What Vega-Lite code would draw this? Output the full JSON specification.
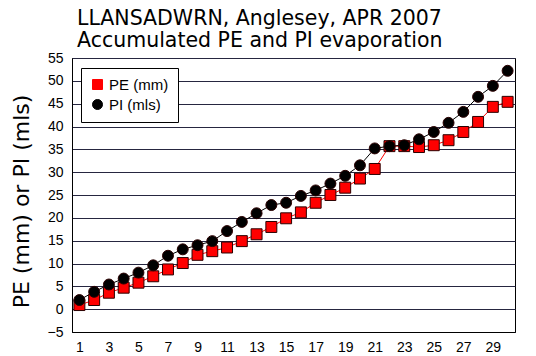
{
  "$schema": "https://vega.github.io/schema/vega-lite/v6.json",
  "width": 443,
  "height": 274,
  "autosize": {"type": "none"},
  "padding": {"left": 72, "top": 58, "right": 21, "bottom": 24},
  "background": "white",
  "title": {
    "text": ["LLANSADWRN, Anglesey, APR 2007", "Accumulated PE and PI evaporation"],
    "anchor": "start",
    "frame": "group",
    "dx": 5,
    "font": "DejaVu Sans",
    "fontSize": 20.5,
    "fontWeight": "normal",
    "lineHeight": 22,
    "offset": 0,
    "color": "black"
  },
  "config": {
    "view": {"stroke": "black", "strokeWidth": 1},
    "axis": {
      "labelFont": "Liberation Sans",
      "labelFontSize": 14,
      "labelColor": "black",
      "domainColor": "black",
      "ticks": false
    },
    "legend": {
      "labelFont": "Liberation Sans",
      "labelFontSize": 15,
      "labelColor": "black",
      "labelLimit": 300
    }
  },
  "data": {
    "values": [
      {"day": 1, "series": "PE (mm)", "value": 0.9},
      {"day": 2, "series": "PE (mm)", "value": 2.0},
      {"day": 3, "series": "PE (mm)", "value": 3.6},
      {"day": 4, "series": "PE (mm)", "value": 4.7},
      {"day": 5, "series": "PE (mm)", "value": 5.8},
      {"day": 6, "series": "PE (mm)", "value": 7.2},
      {"day": 7, "series": "PE (mm)", "value": 8.7},
      {"day": 8, "series": "PE (mm)", "value": 10.1},
      {"day": 9, "series": "PE (mm)", "value": 11.9},
      {"day": 10, "series": "PE (mm)", "value": 12.7},
      {"day": 11, "series": "PE (mm)", "value": 13.5},
      {"day": 12, "series": "PE (mm)", "value": 14.9},
      {"day": 13, "series": "PE (mm)", "value": 16.4},
      {"day": 14, "series": "PE (mm)", "value": 18.0},
      {"day": 15, "series": "PE (mm)", "value": 19.9},
      {"day": 16, "series": "PE (mm)", "value": 21.2},
      {"day": 17, "series": "PE (mm)", "value": 23.3},
      {"day": 18, "series": "PE (mm)", "value": 25.0},
      {"day": 19, "series": "PE (mm)", "value": 26.6},
      {"day": 20, "series": "PE (mm)", "value": 28.6},
      {"day": 21, "series": "PE (mm)", "value": 30.7},
      {"day": 22, "series": "PE (mm)", "value": 35.7},
      {"day": 23, "series": "PE (mm)", "value": 35.7},
      {"day": 24, "series": "PE (mm)", "value": 35.5},
      {"day": 25, "series": "PE (mm)", "value": 35.9},
      {"day": 26, "series": "PE (mm)", "value": 37.0},
      {"day": 27, "series": "PE (mm)", "value": 38.8},
      {"day": 28, "series": "PE (mm)", "value": 41.0},
      {"day": 29, "series": "PE (mm)", "value": 44.3},
      {"day": 30, "series": "PE (mm)", "value": 45.4},
      {"day": 1, "series": "PI (mls)", "value": 2.0},
      {"day": 2, "series": "PI (mls)", "value": 3.8},
      {"day": 3, "series": "PI (mls)", "value": 5.4},
      {"day": 4, "series": "PI (mls)", "value": 6.7},
      {"day": 5, "series": "PI (mls)", "value": 8.0},
      {"day": 6, "series": "PI (mls)", "value": 9.6},
      {"day": 7, "series": "PI (mls)", "value": 11.7},
      {"day": 8, "series": "PI (mls)", "value": 13.1},
      {"day": 9, "series": "PI (mls)", "value": 14.0},
      {"day": 10, "series": "PI (mls)", "value": 14.9},
      {"day": 11, "series": "PI (mls)", "value": 17.1},
      {"day": 12, "series": "PI (mls)", "value": 19.1},
      {"day": 13, "series": "PI (mls)", "value": 21.0},
      {"day": 14, "series": "PI (mls)", "value": 22.8},
      {"day": 15, "series": "PI (mls)", "value": 23.3},
      {"day": 16, "series": "PI (mls)", "value": 24.8},
      {"day": 17, "series": "PI (mls)", "value": 26.0},
      {"day": 18, "series": "PI (mls)", "value": 27.5},
      {"day": 19, "series": "PI (mls)", "value": 29.2},
      {"day": 20, "series": "PI (mls)", "value": 31.5},
      {"day": 21, "series": "PI (mls)", "value": 35.2},
      {"day": 22, "series": "PI (mls)", "value": 35.7},
      {"day": 23, "series": "PI (mls)", "value": 35.9},
      {"day": 24, "series": "PI (mls)", "value": 37.2},
      {"day": 25, "series": "PI (mls)", "value": 38.8},
      {"day": 26, "series": "PI (mls)", "value": 40.8},
      {"day": 27, "series": "PI (mls)", "value": 43.2},
      {"day": 28, "series": "PI (mls)", "value": 46.5},
      {"day": 29, "series": "PI (mls)", "value": 48.9},
      {"day": 30, "series": "PI (mls)", "value": 52.2}
    ]
  },
  "encoding": {
    "x": {
      "field": "day",
      "type": "ordinal",
      "scale": {"type": "point", "padding": 0.5},
      "axis": {
        "title": null,
        "labelAngle": 0,
        "labelPadding": 8,
        "labelExpr": "datum.value % 2 == 1 ? datum.label : ''",
        "grid": false
      }
    },
    "y": {
      "field": "value",
      "type": "quantitative",
      "scale": {"domain": [-5, 55], "nice": false, "zero": false},
      "axis": {
        "title": "PE (mm) or PI (mls)",
        "titleFont": "DejaVu Sans",
        "titleFontSize": 22,
        "titleFontWeight": "normal",
        "titleColor": "black",
        "titleX": -39,
        "titleY": 143,
        "titleAngle": -90,
        "titleAlign": "center",
        "titleBaseline": "bottom",
        "values": [-5, 0, 5, 10, 15, 20, 25, 30, 35, 40, 45, 50, 55],
        "labelPadding": 9,
        "grid": true,
        "gridColor": "#262640",
        "gridWidth": 1.2,
        "gridOpacity": 1
      }
    }
  },
  "layer": [
    {
      "mark": {"type": "line", "strokeWidth": 1},
      "encoding": {
        "color": {
          "field": "series",
          "type": "nominal",
          "scale": {"domain": ["PE (mm)", "PI (mls)"], "range": ["#ff0000", "#000000"]}
        }
      }
    },
    {
      "mark": {"type": "point", "filled": true, "opacity": 1, "stroke": "#2a0000", "strokeWidth": 1, "size": 120},
      "encoding": {
        "color": {
          "field": "series",
          "type": "nominal",
          "scale": {"domain": ["PE (mm)", "PI (mls)"], "range": ["#ff0000", "#000000"]},
          "legend": {
            "title": "\u00a0\u00a0\u00a0\u00a0\u00a0\u00a0\u00a0\u00a0\u00a0\u00a0\u00a0\u00a0",
            "titleOrient": "right",
            "titleAngle": 0,
            "titleFontSize": 14,
            "titlePadding": 0,
            "orient": "none",
            "legendX": 9,
            "legendY": 10,
            "fillColor": "white",
            "strokeColor": "black",
            "padding": 9,
            "rowPadding": 4,
            "labelFontSize": 15,
            "labelFont": "Liberation Sans",
            "symbolStrokeWidth": 1
          }
        },
        "shape": {
          "field": "series",
          "type": "nominal",
          "scale": {"domain": ["PE (mm)", "PI (mls)"], "range": ["square", "circle"]}
        }
      }
    }
  ]
}
